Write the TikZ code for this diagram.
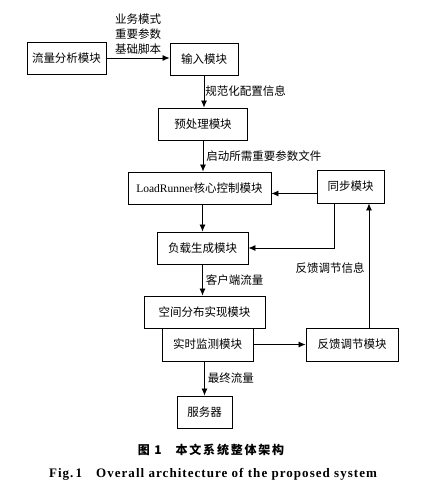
\documentclass[tikz,border=0pt]{standalone}
\usepackage{fontspec}
\setmainfont{Liberation Serif}
\newfontfamily\cjk{Noto Sans CJK SC}
\usepackage{tikz}
\usetikzlibrary{arrows.meta,calc}

\begin{document}
\begin{tikzpicture}[x=1pt, y=-1pt, >={Latex[length=7pt,width=6pt]},
  box/.style={draw,line width=0.9pt,inner sep=0pt,minimum height=32pt,
    font=\fontsize{11.5}{14}\selectfont\cjk},
  lbl/.style={inner sep=1pt,font=\fontsize{11.5}{15}\selectfont\cjk},
  link/.style={->,line width=0.8pt}]
  \useasboundingbox (0,0) rectangle (435,491);
  %--- main column ---
  \node[box,minimum width=79pt] (flow) at (66.5,58) {流量分析模块};
  \node[box,minimum width=68pt] (input) at (204,59) {输入模块};
  \node[box,minimum width=89pt] (pre) at (203,124) {预处理模块};
  \node[box,minimum width=143pt] (core) at (199.5,188) {{\rmfamily LoadRunner}核心控制模块};
  \node[box,minimum width=91pt] (load) at (202.5,248) {负载生成模块};
  \node[box,minimum width=121pt] (space) at (204.5,312) {空间分布实现模块};
  \node[box,minimum width=91pt,minimum height=33pt] (mon) at (207.5,344.5) {实时监测模块};
  \node[box,minimum width=55pt] (srv) at (204.5,412) {服务器};
  %--- right side ---
  \node[box,minimum width=67pt,minimum height=33pt] (sync) at (350.5,186.5) {同步模块};
  \node[box,minimum width=92pt,minimum height=33pt] (fb) at (352,344.5) {反馈调节模块};
  %--- connectors ---
  \draw[link] (flow.east) -- (flow.east -| input.west) node[lbl,midway,above=2pt,align=center] {业务模式\\重要参数\\基础脚本};
  \draw[link] (input.south) -- (input.south |- pre.north) node[lbl,midway,right] {规范化配置信息};
  \draw[link] (pre.south) -- (pre.south |- core.north) node[lbl,midway,right=2pt] {启动所需重要参数文件};
  \draw[link] ([xshift=3pt]core.south) -- ([xshift=3pt]core.south |- load.north);
  \draw[link] (load.south) -- (load.south |- space.north) node[lbl,midway,right=2pt] {客户端流量};
  \draw[link] ([xshift=-3pt]mon.south) -- ([xshift=-3pt]mon.south |- srv.north) node[lbl,midway,right=2pt] {最终流量};
  \draw[link] (mon) -- (fb);
  \draw[link] ([xshift=17pt]fb.north) -- ([xshift=17pt]fb.north |- sync.south) node[lbl,pos=0.48,left=3pt] {反馈调节信息};
  \draw[link] ([yshift=-7pt]sync.west) -- ([yshift=-7pt]sync.west -| core.east);
  \draw[link] ([xshift=-16pt]sync.south) |- (load.east);
  %--- caption ---
  \node[font=\fontsize{12}{14}\selectfont\cjk\bfseries\addfontfeature{LetterSpace=15}] (capcn) at (211,450) {图 1\hspace{14pt}本文系统整体架构};
  \node[font=\fontsize{13}{15}\selectfont\bfseries\addfontfeature{LetterSpace=8}] (capen) at (213,474) {Fig.\,1\hspace{14pt}Overall architecture of the proposed system};
\end{tikzpicture}
\end{document}
